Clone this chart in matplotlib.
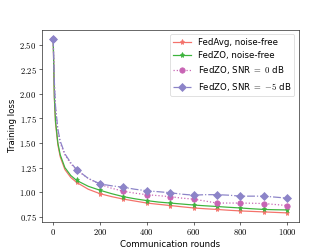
import matplotlib
matplotlib.use("Agg")
import matplotlib.pyplot as plt
import numpy as np

plt.rcParams['mathtext.fontset'] = 'cm'
plt.rcParams['font.family'] = ['DejaVu Sans']

rounds = [0, 5, 10, 20, 30, 50, 75, 100, 150, 200, 250, 300, 350, 400, 450, 500,
          550, 600, 650, 700, 750, 800, 850, 900, 950, 1000]
fedavg = [2.56, 1.95, 1.70, 1.48, 1.36, 1.23, 1.15, 1.10, 1.03, 0.985, 0.955, 0.93,
          0.91, 0.89, 0.877, 0.865, 0.852, 0.84, 0.832, 0.825, 0.817, 0.81, 0.805,
          0.80, 0.795, 0.79]
fedzo = [2.56, 1.97, 1.72, 1.50, 1.38, 1.25, 1.17, 1.12, 1.06, 1.02, 0.985, 0.955,
         0.933, 0.915, 0.90, 0.89, 0.88, 0.87, 0.862, 0.855, 0.847, 0.84, 0.832,
         0.825, 0.822, 0.82]
fedzo_0db = [2.56, 2.10, 1.85, 1.62, 1.50, 1.38, 1.29, 1.225, 1.14, 1.08, 1.04, 1.01,
             0.99, 0.975, 0.965, 0.955, 0.94, 0.93, 0.91, 0.89, 0.89, 0.89, 0.888,
             0.885, 0.875, 0.865]
fedzo_m5db = [2.56, 2.12, 1.87, 1.64, 1.52, 1.39, 1.30, 1.23, 1.14, 1.085, 1.065, 1.05,
              1.03, 1.015, 1.005, 0.995, 0.98, 0.97, 0.975, 0.975, 0.97, 0.96, 0.96,
              0.96, 0.95, 0.94]
labels = ['FedAvg, noise-free', 'FedZO, noise-free',
          r'FedZO, SNR $=$ $0$ dB', r'FedZO, SNR $=$ $-5$ dB']
xticks = [0, 200, 400, 600, 800, 1000]
yticks = [0.75, 1.00, 1.25, 1.50, 1.75, 2.00, 2.25, 2.50]

marks = [i for i, r in enumerate(rounds) if r % 100 == 0]

fig = plt.figure(figsize=(6.4, 4.8), dpi=332 / 6.4)
ax = fig.add_axes([0.125, 0.11, 0.775, 0.77])

styles = [
    dict(color='#f4726b', ls='-', marker='*', ms=7),
    dict(color='#3db43d', ls='-', marker='*', ms=7),
    dict(color='#c864b4', ls=':', marker='o', ms=7.5),
    dict(color='#8c84c8', ls='-.', marker='D', ms=7.5),
]
for y, lab, st in zip([fedavg, fedzo, fedzo_0db, fedzo_m5db], labels, styles):
    ax.plot(rounds, y, label=lab, lw=1.7, markevery=marks, **st)

ax.set_xticks(xticks)
ax.set_xticklabels([f'${v}$' for v in xticks], fontsize=12)
ax.set_yticks(yticks)
ax.set_yticklabels([f'${v:.2f}$' for v in yticks], fontsize=12)
ax.set_xlabel('Communication rounds', fontsize=12)
ax.set_ylabel('Training loss', fontsize=12)
ax.legend(loc='upper right', fontsize=12)

fig.savefig('out.png', dpi=332 / 6.4)
